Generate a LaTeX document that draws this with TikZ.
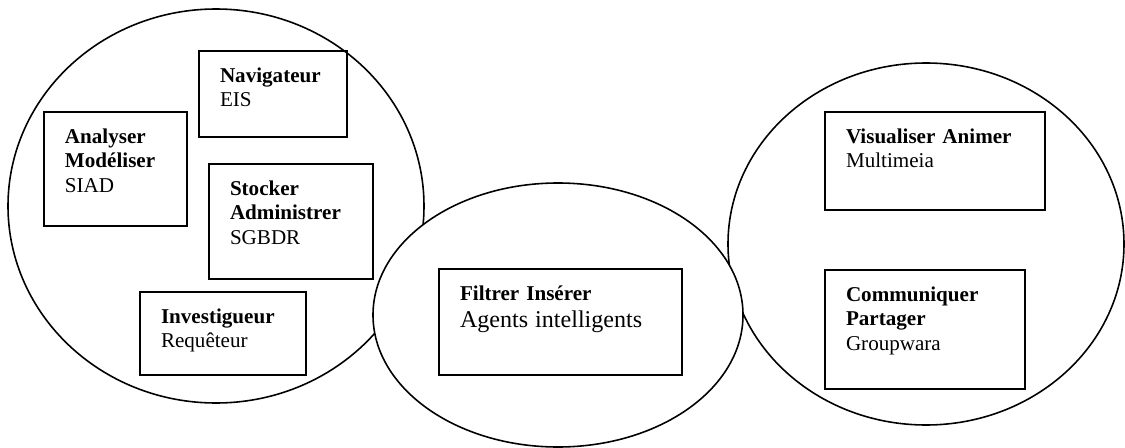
\documentclass[tikz,border=0pt]{standalone}
\usepackage{fontspec}
\setmainfont{Liberation Serif}
\usetikzlibrary{positioning}
\usetikzlibrary{shapes}
\tikzset {
        zonenode/.style={ellipse, draw, line width=0.9pt, inner sep=0pt},
        recnode/.style={rectangle, draw, line width=1.1pt, align=left, outer sep=0pt, inner xsep=4.2mm, inner ysep=3.4mm, text height=2.8mm, anchor=north west, font=\fontsize{12}{14.2}\selectfont}
}

\begin{document}
\begin{tikzpicture}[x=0.2mm, y=-0.2mm]
            \useasboundingbox (0,0) rectangle (1125,448);
            % the three zones, the middle one drawn last and filled
            \node[zonenode, minimum width=83.2mm, minimum height=78.8mm] (LeftZone) at (216,206) {};
            \node[zonenode, minimum width=79.2mm, minimum height=72.4mm] (RightZone) at (926,244) {};
            \node[zonenode, fill=white, minimum width=74mm, minimum height=52.8mm] (MiddleZone) at (558,315) {};

            \node[recnode, text width=21.2mm, text depth=7.6mm] (Navigateur) at (199,51) {
                \textbf{Navigateur}\\EIS
            };
            \node[recnode, text width=20.2mm, text depth=13.2mm] (Analyser) at (44,112) {
                \textbf{Analyser}\\\textbf{Modéliser}\\SIAD
            };
            \node[recnode, below right=5.4mm and 2mm of Navigateur.south west, text width=24.4mm, text depth=13.4mm] (Stocker) {
                \textbf{Stocker}\\\textbf{Administrer}\\SGBDR
            };
            \node[recnode, text width=24.8mm, text depth=7mm] (Investigueur) at (140,292) {
                \textbf{Investigueur}\\Requêteur
            };
            \node[recnode, text width=40.2mm, text depth=11.6mm, font=\fontsize{12}{15.4}\selectfont] (Filtrer) at (439,269) {
                \textbf{Filtrer Insérer}\\{\fontsize{13.7}{15.4}\selectfont Agents intelligents}
            };
            \node[recnode, text width=35.6mm, text depth=10mm] (Visualiser) at (825,112) {
                \textbf{Visualiser Animer}\\Multimeia
            };
            \node[recnode, below=12mm of Visualiser.south west, anchor=north west, text width=31.6mm, text depth=14.2mm] (Communiquer) {
                \textbf{Communiquer}\\\textbf{Partager}\\Groupwara
            };
\end{tikzpicture}
\end{document}
